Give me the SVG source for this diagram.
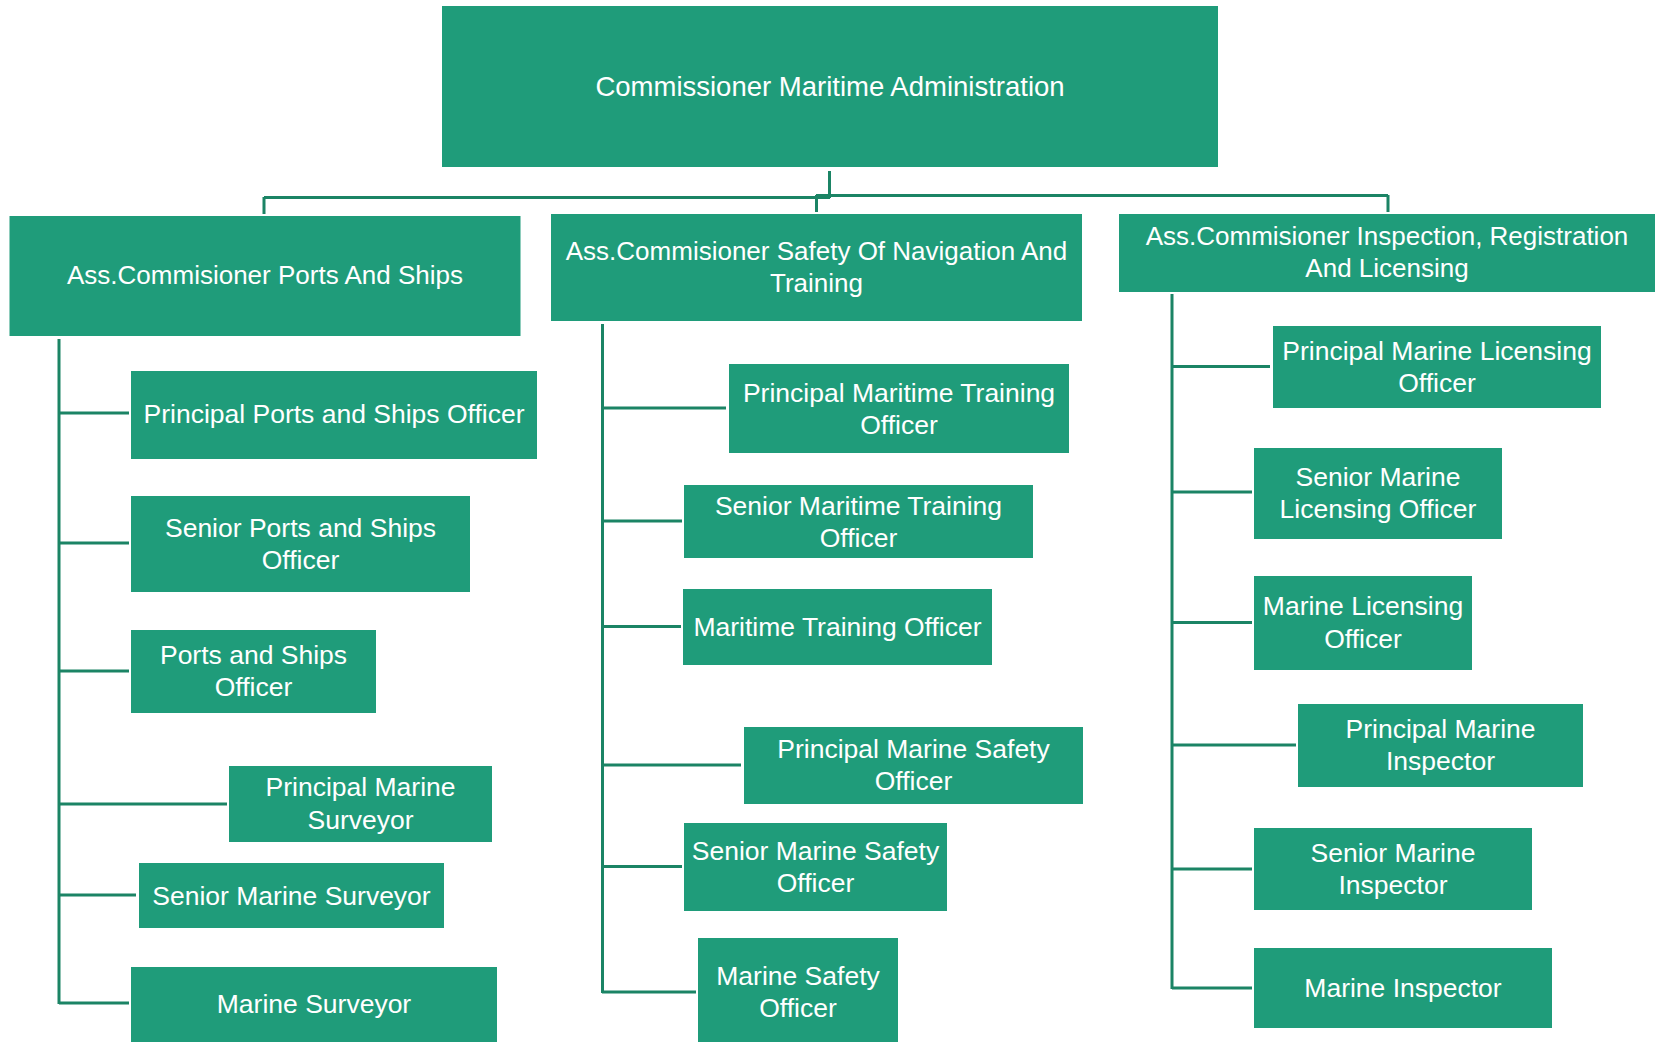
<svg xmlns="http://www.w3.org/2000/svg" width="1657" height="1042" viewBox="0 0 1657 1042">
<style>
.box{fill:#1F9C7A}
.t{fill:#FFFFFF;font-family:"Liberation Sans",Arial,sans-serif;text-anchor:middle;dominant-baseline:central}
.t0{font-size:27.5px}
.t1{font-size:26px}
.t2{font-size:26.5px}
.c{stroke:#1B8465;stroke-width:3;fill:none}
</style>
<rect width="1657" height="1042" fill="#FFFFFF"/>
<g id="connectors">
<path class="c" d="M829.5 171 V198 M264 197.5 H830 M816 195.5 H1388 M264 197 V214 M816.5 195 V212 M1388 195 V212"/>
<path class="c" d="M59 339 V1004 M59 413 H129 M59 543 H129 M59 671 H129 M59 804 H227 M59 895 H136 M59 1003 H129"/>
<path class="c" d="M602.5 324 V993 M602 408 H726 M602 521 H682 M602 626.5 H681 M602 765 H741 M602 866.5 H682 M602 992 H696"/>
<path class="c" d="M1172 294 V989 M1172 366.5 H1270 M1172 492 H1252 M1172 622.5 H1252 M1172 745 H1296 M1172 869 H1252 M1172 988 H1252"/>
</g>
<g id="n-commissioner"><rect class="box" x="442" y="6" width="776" height="161"/><text class="t t0" x="830" y="86">Commissioner Maritime Administration</text></g>
<g id="n-ports"><rect class="box" x="9.5" y="216" width="511" height="120"/><text class="t t1" x="265" y="275">Ass.Commisioner Ports And Ships</text></g>
<g id="n-safety"><rect class="box" x="551" y="214" width="531" height="107"/><text class="t t1" x="816.5" y="251">Ass.Commisioner Safety Of Navigation And</text><text class="t t1" x="816.5" y="283">Training</text></g>
<g id="n-inspection"><rect class="box" x="1119" y="214" width="536" height="78"/><text class="t t1" x="1387" y="236">Ass.Commisioner Inspection, Registration</text><text class="t t1" x="1387" y="268">And Licensing</text></g>

<g id="n-ppso"><rect class="box" x="131" y="371" width="406" height="88"/><text class="t t2" x="334" y="414">Principal Ports and Ships Officer</text></g>
<g id="n-spso"><rect class="box" x="131" y="496" width="339" height="96"/><text class="t t2" x="300.5" y="528">Senior Ports and Ships</text><text class="t t2" x="300.5" y="560">Officer</text></g>
<g id="n-pso"><rect class="box" x="131" y="630" width="245" height="83"/><text class="t t2" x="253.5" y="655">Ports and Ships</text><text class="t t2" x="253.5" y="687">Officer</text></g>
<g id="n-pms"><rect class="box" x="229" y="766" width="263" height="76"/><text class="t t2" x="360.5" y="787">Principal Marine</text><text class="t t2" x="360.5" y="820">Surveyor</text></g>
<g id="n-sms"><rect class="box" x="139" y="863" width="305" height="65"/><text class="t t2" x="291.5" y="896">Senior Marine Surveyor</text></g>
<g id="n-ms"><rect class="box" x="131" y="967" width="366" height="75"/><text class="t t2" x="314" y="1004">Marine Surveyor</text></g>

<g id="n-pmto"><rect class="box" x="729" y="364" width="340" height="89"/><text class="t t2" x="899" y="393">Principal Maritime Training</text><text class="t t2" x="899" y="425">Officer</text></g>
<g id="n-smto"><rect class="box" x="684" y="485" width="349" height="73"/><text class="t t2" x="858.5" y="506">Senior Maritime Training</text><text class="t t2" x="858.5" y="538">Officer</text></g>
<g id="n-mto"><rect class="box" x="683" y="589" width="309" height="76"/><text class="t t2" x="837.5" y="627">Maritime Training Officer</text></g>
<g id="n-pmso"><rect class="box" x="744" y="727" width="339" height="77"/><text class="t t2" x="913.5" y="749">Principal Marine Safety</text><text class="t t2" x="913.5" y="781">Officer</text></g>
<g id="n-smso"><rect class="box" x="684" y="823" width="263" height="88"/><text class="t t2" x="815.5" y="851">Senior Marine Safety</text><text class="t t2" x="815.5" y="883">Officer</text></g>
<g id="n-mso"><rect class="box" x="698" y="938" width="200" height="104"/><text class="t t2" x="798" y="976">Marine Safety</text><text class="t t2" x="798" y="1008">Officer</text></g>

<g id="n-pmlo"><rect class="box" x="1273" y="326" width="328" height="82"/><text class="t t2" x="1437" y="351">Principal Marine Licensing</text><text class="t t2" x="1437" y="383">Officer</text></g>
<g id="n-smlo"><rect class="box" x="1254" y="448" width="248" height="91"/><text class="t t2" x="1378" y="477">Senior Marine</text><text class="t t2" x="1378" y="509">Licensing Officer</text></g>
<g id="n-mlo"><rect class="box" x="1254" y="576" width="218" height="94"/><text class="t t2" x="1363" y="606">Marine Licensing</text><text class="t t2" x="1363" y="639">Officer</text></g>
<g id="n-pmi"><rect class="box" x="1298" y="704" width="285" height="83"/><text class="t t2" x="1440.5" y="729">Principal Marine</text><text class="t t2" x="1440.5" y="761">Inspector</text></g>
<g id="n-smi"><rect class="box" x="1254" y="828" width="278" height="82"/><text class="t t2" x="1393" y="853">Senior Marine</text><text class="t t2" x="1393" y="885">Inspector</text></g>
<g id="n-mi"><rect class="box" x="1254" y="948" width="298" height="80"/><text class="t t2" x="1403" y="988">Marine Inspector</text></g>
</svg>
